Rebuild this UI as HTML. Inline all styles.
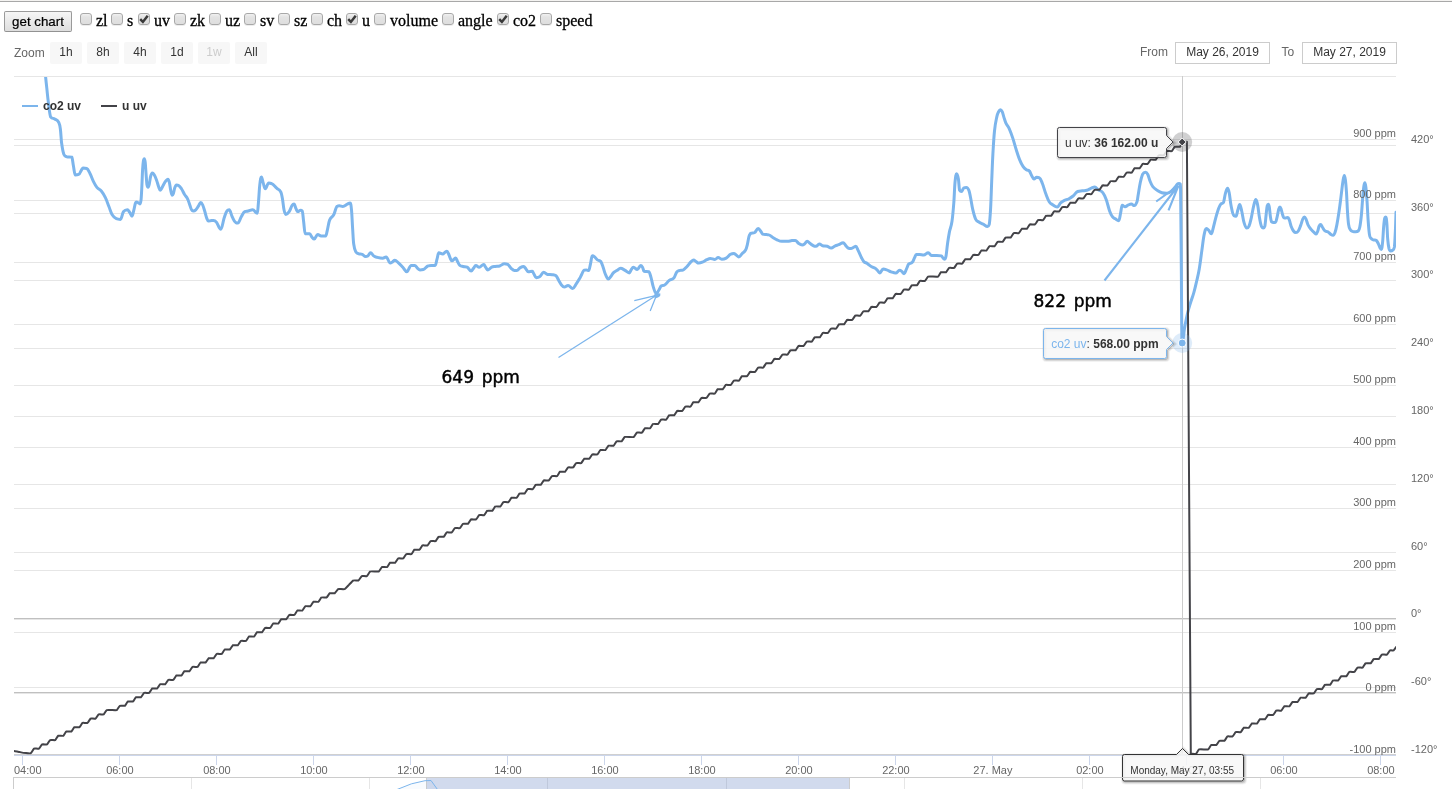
<!DOCTYPE html>
<html><head><meta charset="utf-8"><title>chart</title>
<style>
html,body{margin:0;padding:0;background:#fff;}
body{width:1452px;height:789px;overflow:hidden;position:relative;font-family:"Liberation Serif","Times New Roman",serif;font-size:16px;color:#000;}
#topline{position:absolute;left:0;top:0;width:1452px;height:2px;background:linear-gradient(#f4f3f1 0,#f4f3f1 50%,#a8a8a8 50%,#a8a8a8 100%);}
#ctl{position:absolute;left:0;top:0;white-space:nowrap;}
#btn{-webkit-appearance:none;appearance:none;margin:0;padding:0;position:absolute;left:4px;top:11px;box-sizing:border-box;width:68px;height:21px;border:1px solid #9a9a9a;border-bottom-color:#929292;border-radius:2px;background:linear-gradient(#f6f6f6,#dedede);font-family:"Liberation Sans",Arial,sans-serif;font-size:13.333px;line-height:19px;text-align:center;color:#000;-webkit-text-stroke:0.2px #000;}
.cb{-webkit-appearance:none;appearance:none;margin:0;padding:0;outline:none;position:absolute;top:13px;box-sizing:border-box;width:12px;height:12px;border:1px solid #a8a8a8;border-radius:3px;background:linear-gradient(#f1f1f1 0%,#e3e3e3 30%,#dedede 100%);box-shadow:0 1px 0 rgba(0,0,0,0.07);}
.ck{position:absolute;top:13px;pointer-events:none;}
.lb{position:absolute;top:12px;height:18px;line-height:18px;-webkit-text-stroke:0.3px #000;}
</style></head><body>
<svg width="1452" height="789" viewBox="0 0 1452 789" style="position:absolute;left:0;top:0;font-family:'Liberation Sans',Arial,Helvetica,sans-serif;font-size:12px">
<defs><clipPath id="pc"><rect x="14" y="77" width="1382" height="678"/></clipPath>
</defs>
<g shape-rendering="crispEdges"><rect x="14" y="76" width="1382" height="1" fill="#e6e6e6"/><rect x="14" y="139" width="1382" height="1" fill="#e6e6e6"/><rect x="14" y="200" width="1382" height="1" fill="#e6e6e6"/><rect x="14" y="262" width="1382" height="1" fill="#e6e6e6"/><rect x="14" y="324" width="1382" height="1" fill="#e6e6e6"/><rect x="14" y="385" width="1382" height="1" fill="#e6e6e6"/><rect x="14" y="447" width="1382" height="1" fill="#e6e6e6"/><rect x="14" y="508" width="1382" height="1" fill="#e6e6e6"/><rect x="14" y="570" width="1382" height="1" fill="#e6e6e6"/><rect x="14" y="632" width="1382" height="1" fill="#e6e6e6"/><rect x="14" y="693" width="1382" height="1" fill="#e6e6e6"/><rect x="14" y="145" width="1382" height="1" fill="#e6e6e6"/><rect x="14" y="213" width="1382" height="1" fill="#e6e6e6"/><rect x="14" y="280" width="1382" height="1" fill="#e6e6e6"/><rect x="14" y="348" width="1382" height="1" fill="#e6e6e6"/><rect x="14" y="416" width="1382" height="1" fill="#e6e6e6"/><rect x="14" y="484" width="1382" height="1" fill="#e6e6e6"/><rect x="14" y="552" width="1382" height="1" fill="#e6e6e6"/><rect x="14" y="619" width="1382" height="1" fill="#e6e6e6"/><rect x="14" y="687" width="1382" height="1" fill="#e6e6e6"/><rect x="14" y="618" width="1382" height="1" fill="#c0c0c0"/><rect x="14" y="692" width="1382" height="1" fill="#c0c0c0"/><rect x="14" y="754" width="1382" height="1" fill="#d0d0d0"/><rect x="14" y="755" width="1382" height="1" fill="#ccd6eb"/></g>
<g shape-rendering="crispEdges"><rect x="22" y="756" width="1" height="9" fill="#ccd6eb"/><rect x="119" y="756" width="1" height="9" fill="#ccd6eb"/><rect x="216" y="756" width="1" height="9" fill="#ccd6eb"/><rect x="313" y="756" width="1" height="9" fill="#ccd6eb"/><rect x="410" y="756" width="1" height="9" fill="#ccd6eb"/><rect x="507" y="756" width="1" height="9" fill="#ccd6eb"/><rect x="604" y="756" width="1" height="9" fill="#ccd6eb"/><rect x="701" y="756" width="1" height="9" fill="#ccd6eb"/><rect x="798" y="756" width="1" height="9" fill="#ccd6eb"/><rect x="895" y="756" width="1" height="9" fill="#ccd6eb"/><rect x="992" y="756" width="1" height="9" fill="#ccd6eb"/><rect x="1089" y="756" width="1" height="9" fill="#ccd6eb"/><rect x="1186" y="756" width="1" height="9" fill="#ccd6eb"/><rect x="1283" y="756" width="1" height="9" fill="#ccd6eb"/><rect x="1380" y="756" width="1" height="9" fill="#ccd6eb"/></g>
<g fill="#666" font-size="11px" text-anchor="middle">
<text x="14" y="774" text-anchor="start">04:00</text>
<text x="119.9" y="774">06:00</text>
<text x="216.9" y="774">08:00</text>
<text x="313.9" y="774">10:00</text>
<text x="410.9" y="774">12:00</text>
<text x="507.9" y="774">14:00</text>
<text x="604.9" y="774">16:00</text>
<text x="701.9" y="774">18:00</text>
<text x="798.9" y="774">20:00</text>
<text x="895.9" y="774">22:00</text>
<text x="992.9" y="774">27. May</text>
<text x="1089.9" y="774">02:00</text>
<text x="1186.9" y="774">04:00</text>
<text x="1283.9" y="774">06:00</text>
<text x="1380.9" y="774">08:00</text>
</g>
<rect x="1182" y="76" width="1" height="679" fill="#cccccc" shape-rendering="crispEdges"/>
<g clip-path="url(#pc)" fill="none" stroke-linejoin="round" stroke-linecap="round">
<path d="M43.5 55C43.5 55 44.16 61.43 44.6 66C45 70.15 45.2 72.76 45.6 76.8C46.08 81.64 46.32 83.74 46.8 88.2C47.4 93.78 47.7 97.38 48.3 101.9C49.22 108.82 49.68 114.6 50.6 116.8C52.24 119 53.06 117.86 54.7 119C56.34 120.14 57.16 119.54 58.8 122.5C59.44 123.66 59.76 124.61 60.4 129.3C60.88 132.81 61.12 139.56 61.6 143C62.52 149.6 62.98 152.1 63.9 154.4C64.98 156.7 65.52 156.3 66.6 156.7C68.68 157.1 69.72 156.7 71.8 157.1C72.44 157.5 72.76 162.55 73.4 165.8C74.16 169.67 74.54 174.9 75.3 174.9C76.66 174.9 77.34 174.9 78.7 174.4C80.5 173.9 81.4 168.1 83.2 168.1C84.6 168.1 85.3 168.1 86.7 168.5C88.06 168.9 88.74 171.16 90.1 173.8C91.46 176.44 92.14 178.98 93.5 181.7C94.86 184.42 95.54 185.77 96.9 187.4C98.74 189.61 99.66 189.07 101.5 191.3C103.06 193.19 103.84 194.48 105.4 197.7C106.84 200.68 107.56 203.18 109 206.8C110.28 210.02 110.92 212.71 112.2 214.8C113.84 217.47 114.66 218 116.3 218.7C117.94 219.4 118.76 219.4 120.4 219.4C121.6 219.4 122.2 213.8 123.4 211.8C125 209.8 125.8 209.8 127.4 209.8C128.32 209.8 128.78 211.12 129.7 212.4C130.62 213.68 131.08 216.2 132 216.2C132.68 216.2 133.02 213.28 133.7 210.7C134.38 208.12 134.72 205.44 135.4 203.3C135.84 201.92 136.06 201.9 136.5 201.9C137.18 201.9 137.52 202.31 138.2 202.7C138.92 203.11 139.28 203.9 140 203.9C140.44 203.9 140.66 203.54 141.1 199.3C141.42 196.22 141.58 191.94 141.9 185.6C142.18 180.06 142.32 174.17 142.6 169.6C142.92 164.37 143.08 163.13 143.4 161.1C143.76 158.81 143.94 158.8 144.3 158.8C144.66 158.8 144.84 159.17 145.2 162.2C145.52 164.89 145.68 168.9 146 173.1C146.36 177.82 146.54 181.7 146.9 184.5C147.38 187.3 147.62 187.3 148.1 187.3C148.54 187.3 148.76 186.4 149.2 184.5C149.76 182.08 150.04 178.56 150.6 176.5C151.28 174 151.62 173.1 152.3 173.1C153.06 173.1 153.44 173.57 154.2 174.8C155.12 176.29 155.58 177.4 156.5 179.9C157.42 182.4 157.88 184.67 158.8 187.3C159.32 188.79 159.58 190.2 160.1 190.2C160.7 190.2 161 189.49 161.6 188.5C162.52 186.97 162.98 185.5 163.9 183.9C164.82 182.3 165.28 181.56 166.2 180.5C166.88 179.72 167.22 179.3 167.9 179.3C168.46 179.3 168.74 180.02 169.3 182.2C169.86 184.38 170.14 187.67 170.7 190.2C171.3 192.91 171.6 195.3 172.2 195.3C172.68 195.3 172.92 195.02 173.4 193.6C173.92 192.06 174.18 189.39 174.7 187.9C175.38 185.95 175.72 185 176.4 185C177.32 185 177.78 185 178.7 185.6C179.86 186.2 180.44 187.25 181.6 189C182.72 190.69 183.28 192.34 184.4 194.2C185.76 196.46 186.44 196.58 187.8 199.3C188.6 200.9 189 202.79 189.8 205C190.52 206.99 190.88 208.7 191.6 209.8C192.24 210.9 192.56 210.9 193.2 210.9C194.24 210.9 194.76 210.76 195.8 209.8C196.84 208.84 197.36 207.65 198.4 206.1C199.32 204.73 199.78 202.5 200.7 202.5C201.5 202.5 201.9 203.23 202.7 205C203.58 206.95 204.02 208.92 204.9 211.8C205.62 214.16 205.98 216.21 206.7 218.1C207.38 219.89 207.72 221 208.4 221C209.28 221 209.72 220.8 210.6 220.7C211.76 220.56 212.34 220.4 213.5 220.4C214.66 220.4 215.24 220.7 216.4 222.1C218.16 224.22 219.04 229.2 220.8 229.2C222.16 229.2 222.84 221.86 224.2 217.8C225.28 214.58 225.82 212.2 226.9 211C227.82 209.8 228.28 209.8 229.2 209.8C230.4 209.8 231 214.34 232.2 216.7C233.56 219.38 234.24 221.8 235.6 222.4C236.52 223 236.98 223 237.9 223C239.26 223 239.94 218.98 241.3 216.7C242.66 214.42 243.34 212.2 244.7 211.6C246.1 211 246.8 211.31 248.2 211C250 210.59 250.9 209.8 252.7 209.8C254.54 209.8 255.46 213.2 257.3 213.2C257.74 213.2 257.96 208.02 258.4 203C258.96 196.62 259.24 189.55 259.8 184.7C260.44 179.15 260.76 177 261.4 177C262.12 177 262.48 180.72 263.2 182.9C264.04 185.44 264.46 188.8 265.3 188.8C266.66 188.8 267.34 182.9 268.7 182.9C269.86 182.9 270.44 182.9 271.6 183.6C273.64 184.3 274.66 186.34 276.7 188.2C278.34 189.7 279.16 189.07 280.8 192C281.44 193.15 281.76 194.84 282.4 198.4C283.04 201.96 283.36 206.79 284 209.8C284.72 213.19 285.08 214.4 285.8 214.4C287.16 214.4 287.84 213.53 289.2 211.6C290.4 209.89 291 207.18 292.2 205.3C292.92 204.18 293.28 204.1 294 204.1C294.8 204.1 295.2 207.03 296 208.7C296.64 210.03 296.96 211.6 297.6 211.6C298.8 211.6 299.4 210.3 300.6 210.3C301.24 210.3 301.56 210.3 302.2 211C302.76 211.7 303.04 216.94 303.6 221.2C304.24 226.06 304.56 233.8 305.2 233.8C307 233.8 307.9 233.8 309.7 233.8C310.62 233.8 311.08 236.16 312 237.2C312.92 238.24 313.38 239 314.3 239C315.66 239 316.34 234.4 317.7 234.4C319.06 234.4 319.74 236 321.1 236C322.94 236 323.86 236 325.7 236C326.34 236 326.66 232.91 327.3 230.3C328.22 226.55 328.68 222.33 329.6 220.1C331.24 216.13 332.06 217.8 333.7 214.8C335.06 212.32 335.74 207.1 337.1 206.4C338.02 205.7 338.48 205.7 339.4 205.7C340.76 205.7 341.44 206.4 342.8 206.4C344.64 206.4 345.56 204.96 347.4 204.1C348.48 203.6 349.02 203 350.1 203C350.66 203 350.94 204.18 351.5 209.8C351.94 214.22 352.16 221.26 352.6 228.1C353.04 234.94 353.26 240.91 353.7 244C354.62 250.47 355.08 250.2 356 252C357.12 253.8 357.68 253.3 358.8 253.8C360.16 254.3 360.84 253.8 362.2 254.3C363.56 254.8 364.24 256.6 365.6 256.6C366.52 256.6 366.98 256.6 367.9 255.9C368.98 255.2 369.52 252.7 370.6 252.7C371.8 252.7 372.4 255.04 373.6 255.9C374.96 256.88 375.64 256.96 377 257.3C379.28 257.88 380.42 258.2 382.7 258.2C384.06 258.2 384.74 257 386.1 257C387.78 257 388.62 263.1 390.3 263.1C391.18 263.1 391.62 262.45 392.5 261.9C393.42 261.33 393.88 260.3 394.8 260.3C396.16 260.3 396.84 261.43 398.2 262.6C400.04 264.19 400.96 265.28 402.8 267.2C404.44 268.92 405.26 271.7 406.9 271.7C407.54 271.7 407.86 270.5 408.5 269.5C409.42 268.06 409.88 265.8 410.8 265.6C412.36 265.4 413.14 265.4 414.7 265.4C415.86 265.4 416.44 267.3 417.6 268.3C418.52 269.1 418.98 269.9 419.9 269.9C421.26 269.9 421.94 269.9 423.3 269.5C425.14 269.1 426.06 266.6 427.9 266C429.26 265.4 429.94 265.4 431.3 265.4C432.86 265.4 433.64 265.4 435.2 265.4C435.92 265.4 436.28 261.72 437 259.2C437.72 256.68 438.08 252.8 438.8 252.8C440.36 252.8 441.14 254 442.7 254C444.34 254 445.16 251.2 446.8 251.2C447.44 251.2 447.76 252.2 448.4 253.5C449.12 254.96 449.48 256.55 450.2 258.1C450.84 259.47 451.16 260.8 451.8 260.8C453.36 260.8 454.14 258.1 455.7 258.1C456.42 258.1 456.78 260.22 457.5 261.5C458.42 263.14 458.88 264.3 459.8 265.4C461.16 266.5 461.84 266.16 463.2 266.5C464.76 266.88 465.54 266.5 467.1 267.2C468.74 267.9 469.56 271.1 471.2 271.1C472.12 271.1 472.58 269.44 473.5 268.3C474.42 267.16 474.88 265.4 475.8 265.4C477.16 265.4 477.84 267.2 479.2 267.2C481.04 267.2 481.96 264.4 483.8 264.4C484.52 264.4 484.88 266.23 485.6 267.2C486.52 268.43 486.98 269.9 487.9 269.9C489.42 269.9 490.18 267.91 491.7 267.2C493.1 266.55 493.8 266.71 495.2 266.5C497 266.23 497.9 266.5 499.7 266C501.54 265.5 502.46 263.8 504.3 263.8C505.66 263.8 506.34 263.8 507.7 264.4C509.06 265 509.74 267.1 511.1 268.3C512.46 269.5 513.14 270.4 514.5 270.4C515.42 270.4 515.88 270.4 516.8 270.4C518.2 270.4 518.9 268.39 520.3 267.6C521.66 266.83 522.34 266.5 523.7 266.5C524.62 266.5 525.08 267.94 526 269C526.88 270.02 527.32 271.7 528.2 271.7C529.84 271.7 530.66 271.3 532.3 271.3C532.94 271.3 533.26 272.95 533.9 274C534.82 275.51 535.28 277.7 536.2 277.7C537.56 277.7 538.24 277.7 539.6 276.8C541.24 275.9 542.06 272.2 543.7 272.2C545.26 272.2 546.04 274.3 547.6 274.5C549.44 274.7 550.36 274.5 552.2 274.7C553.76 274.9 554.54 274.7 556.1 275.8C557.26 276.9 557.84 278.91 559 280.9C559.92 282.47 560.38 283.64 561.3 284.7C562.5 286.08 563.1 287 564.3 287C565.82 287 566.58 285.4 568.1 285.4C569.94 285.4 570.86 288.4 572.7 288.4C574.18 288.4 574.92 285.7 576.4 283.6C577.68 281.78 578.32 280.83 579.6 278.6C580.52 276.99 580.98 275.74 581.9 274C582.78 272.34 583.22 270.3 584.1 270.1C585.02 269.9 585.48 269.9 586.4 269.9C587.32 269.9 587.78 270.6 588.7 270.6C589.42 270.6 589.78 266.76 590.5 263.8C591.22 260.84 591.58 255.8 592.3 255.8C593.22 255.8 593.68 256.16 594.6 256.9C595.72 257.8 596.28 259.07 597.4 259.9C598.76 260.91 599.44 259.9 600.8 261.5C601.72 263.1 602.18 264.64 603.1 267.2C603.98 269.64 604.42 272 605.3 274C606.5 276.72 607.1 279 608.3 279C609.22 279 609.68 277.92 610.6 276.8C611.68 275.48 612.22 273.98 613.3 272.9C614.7 271.5 615.4 271.48 616.8 270.6C618.32 269.64 619.08 268.3 620.6 268.3C622.24 268.3 623.06 269.23 624.7 270.1C626.54 271.07 627.46 272.9 629.3 272.9C630.02 272.9 630.38 270.9 631.1 269.9C632.02 268.62 632.48 267.2 633.4 267.2C634.96 267.2 635.74 269.5 637.3 269.5C638.66 269.5 639.34 265.6 640.7 265.6C641.42 265.6 641.78 265.99 642.5 267.2C643.14 268.27 643.46 270.9 644.1 271.3C645.94 271.7 646.86 271.3 648.7 271.7C649.62 272.1 650.08 274.35 651 277.4C651.88 280.31 652.32 283.89 653.2 286.6C654.4 290.29 655 293.4 656.2 293.4C657.28 293.4 657.82 291.62 658.9 290C659.82 288.62 660.28 286.8 661.2 285.9C662.56 285 663.24 285.9 664.6 285C666.44 284.1 667.36 281.78 669.2 280.4C671.04 279.02 671.96 280.11 673.8 278.1C674.96 276.83 675.54 273.87 676.7 272.2C677.62 270.87 678.08 271.1 679 270.6C680.56 270.1 681.34 270.6 682.9 270.1C684.46 269.6 685.24 268.3 686.8 266.7C688.44 265.02 689.26 263.54 690.9 261.9C691.98 260.82 692.52 259.9 693.6 259.9C694.52 259.9 694.98 260.93 695.9 261.5C697.06 262.21 697.64 263.1 698.8 263.1C700.2 263.1 700.9 262.8 702.3 262.2C704.1 261.44 705 260.53 706.8 259.7C708.2 259.05 708.9 258.5 710.3 258.5C712.1 258.5 713 259.4 714.8 259.4C716.16 259.4 716.84 257.6 718.2 257.6C719.6 257.6 720.3 259.2 721.7 259.2C723.5 259.2 724.4 259.09 726.2 258.1C728.04 257.09 728.96 254.9 730.8 254.2C731.96 253.5 732.54 253.5 733.7 253.5C734.82 253.5 735.38 254.55 736.5 255.3C737.42 255.91 737.88 256.9 738.8 256.9C740.16 256.9 740.84 254.86 742.2 253.5C743.56 252.14 744.24 252.48 745.6 250.1C746.32 248.84 746.68 247.3 747.4 244.4C748.04 241.82 748.36 238.6 749 236.4C749.64 234.2 749.96 234.3 750.6 233.4C752.24 232.5 753.06 233.4 754.7 232.5C756.06 231.6 756.74 228.4 758.1 228.4C759.02 228.4 759.48 229.56 760.4 230.7C761.32 231.84 761.78 233.6 762.7 234.1C764.26 234.6 765.04 234.39 766.6 234.6C767.44 234.71 767.86 234.6 768.7 234.9C770.22 235.2 770.98 236.3 772.5 237.2C774.34 238.3 775.26 239.08 777.1 239.9C778.94 240.72 779.86 241.3 781.7 241.3C783.98 241.3 785.12 241.3 787.4 241.3C789.2 241.3 790.1 240.81 791.9 240.6C793.26 240.45 793.94 240.4 795.3 240.4C796.7 240.4 797.4 242.69 798.8 243.6C800.16 244.49 800.84 244.9 802.2 244.9C803.12 244.9 803.58 244.66 804.5 244C805.58 243.22 806.12 241.3 807.2 241.3C808.4 241.3 809 242.76 810.2 243.6C811.56 244.56 812.24 245.16 813.6 245.8C814.52 246.24 814.98 246.3 815.9 246.3C817.26 246.3 817.94 244 819.3 244C820.66 244 821.34 245.3 822.7 245.8C824.54 246.3 825.46 245.8 827.3 246.3C828.86 246.72 829.64 248.1 831.2 248.1C832.84 248.1 833.66 246.54 835.3 245.8C836.66 245.18 837.34 245.23 838.7 244.7C840.5 243.99 841.4 242.7 843.2 242.7C844.12 242.7 844.58 244.16 845.5 245.2C846.42 246.24 846.88 247.2 847.8 247.9C849.16 248.6 849.84 248.6 851.2 248.6C853.04 248.6 853.96 246.3 855.8 246.3C856.72 246.3 857.18 248.56 858.1 250.4C859.46 253.12 860.14 255.03 861.5 257.7C862.42 259.51 862.88 260.68 863.8 261.6C865.16 262.96 865.84 262.5 867.2 263.4C869 264.58 869.9 265.72 871.7 266.8C873.1 267.64 873.8 267.34 875.2 268.2C876.08 268.74 876.52 269.36 877.4 270.3C878.32 271.28 878.78 273 879.7 273C881.06 273 881.74 269.1 883.1 269.1C884.5 269.1 885.2 269.33 886.6 269.8C888.4 270.41 889.3 271.17 891.1 271.8C892.94 272.45 893.86 273 895.7 273C897.26 273 898.04 270.3 899.6 270.3C900.48 270.3 900.92 270.74 901.8 271.4C902.72 272.1 903.18 273.7 904.1 273.7C905.02 273.7 905.48 271.02 906.4 269.1C907.32 267.18 907.78 265.16 908.7 264.1C910.14 262.44 910.86 263.86 912.3 262.3C913.22 261.3 913.68 259.54 914.6 257.7C915.24 256.42 915.56 254.5 916.2 254.5C917.56 254.5 918.24 254.5 919.6 254.5C921.24 254.5 922.06 255 923.7 255C925.54 255 926.46 252.7 928.3 252.7C929.58 252.7 930.22 255.4 931.5 255.4C933.58 255.4 934.62 255.4 936.7 255.4C938.54 255.4 939.46 255.4 941.3 255.9C942.5 256.4 943.1 259.3 944.3 259.3C944.94 259.3 945.26 259.3 945.9 256.6C946.54 253.9 946.86 248.52 947.5 244C948.22 238.92 948.58 236.25 949.3 232.6C950.38 227.13 950.92 228.3 952 221.2C952.72 216.46 953.08 212.29 953.8 203C954.28 196.81 954.52 187.51 955 182.5C955.64 175.83 955.96 173.8 956.6 173.8C957.32 173.8 957.68 175.04 958.4 179C958.88 181.64 959.12 189.1 959.6 190.3C960.32 191.5 960.68 191.5 961.4 191.5C962.32 191.5 962.78 188.8 963.7 188.1C964.78 187.4 965.32 187.4 966.4 187.4C967.4 187.4 967.9 187.91 968.9 190.3C969.54 191.83 969.86 194.02 970.5 197.2C971.42 201.78 971.88 205.73 972.8 209.7C973.88 214.37 974.42 216.51 975.5 218.8C976.7 221.35 977.3 220.96 978.5 221.8C980.34 223.08 981.26 223.17 983.1 224.1C984.9 225.01 985.8 226.4 987.6 226.4C988.24 226.4 988.56 226.4 989.2 224.5C989.76 222.6 990.04 218.3 990.6 208.6C991.04 200.98 991.26 191.66 991.7 181.2C992.18 169.78 992.42 162.51 992.9 153.9C993.54 142.43 993.86 137.07 994.5 131C995.42 122.27 995.88 121.23 996.8 116.9C997.52 113.51 997.88 113.12 998.6 111.7C999.32 110.28 999.68 109.8 1000.4 109.8C1001.12 109.8 1001.48 110.2 1002.2 111.7C1002.84 113.04 1003.16 114.93 1003.8 116.9C1004.64 119.49 1005.06 121.28 1005.9 123.1C1007.26 126.04 1007.94 125.84 1009.3 128.8C1010.66 131.76 1011.34 133.8 1012.7 137.9C1014.06 142 1014.74 145.02 1016.1 149.3C1017.5 153.7 1018.2 156.13 1019.6 159.6C1020.96 162.97 1021.64 164.36 1023 166.4C1024.36 168.44 1025.04 168.82 1026.4 169.8C1027.6 170.66 1028.2 169.8 1029.4 171C1030.28 172.2 1030.72 173.96 1031.6 175.5C1032.52 177.12 1032.98 178.9 1033.9 178.9C1035.02 178.9 1035.58 177.3 1036.7 177.3C1037.78 177.3 1038.32 177.3 1039.4 177.8C1040.6 178.3 1041.2 180.5 1042.4 183.5C1043.76 186.9 1044.44 190.16 1045.8 193.8C1047.16 197.44 1047.84 199.52 1049.2 201.7C1050.56 203.88 1051.24 203.8 1052.6 204.7C1054.44 205.92 1055.36 207 1057.2 207C1058.56 207 1059.24 204.18 1060.6 202.9C1061.96 201.62 1062.64 201.26 1064 200.6C1065.84 199.7 1066.76 199.93 1068.6 199C1070.4 198.09 1071.3 197.48 1073.1 196C1074.94 194.48 1075.86 192.2 1077.7 191.5C1079.54 190.8 1080.46 191.04 1082.3 190.8C1084.1 190.56 1085 190.8 1086.8 190.3C1088.64 189.8 1089.56 188.88 1091.4 188.1C1092.76 187.52 1093.44 186.9 1094.8 186.9C1096.16 186.9 1096.84 188.73 1098.2 189.7C1100.04 191.01 1100.96 190.35 1102.8 192.6C1104.16 194.27 1104.84 195.84 1106.2 199.5C1107.56 203.16 1108.24 207.15 1109.6 210.9C1110.72 213.99 1111.28 215.05 1112.4 216.6C1113.56 218.21 1114.14 218.06 1115.3 218.8C1116.7 219.7 1117.4 220.7 1118.8 220.7C1119.52 220.7 1119.88 216.38 1120.6 213.1C1121.24 210.18 1121.56 205.2 1122.2 205.2C1123.36 205.2 1123.94 206.8 1125.1 206.8C1126.22 206.8 1126.78 205.71 1127.9 205.2C1129.26 204.59 1129.94 204 1131.3 204C1132.5 204 1133.1 205.6 1134.3 205.6C1135.38 205.6 1135.92 204.47 1137 201.7C1137.4 200.67 1137.6 198.43 1138 196.1C1138.92 190.75 1139.38 186.92 1140.3 182.5C1141.18 178.28 1141.62 176.8 1142.5 174.5C1143.7 172.2 1144.3 172.2 1145.5 172.2C1146.42 172.2 1146.88 172.68 1147.8 174.5C1148.72 176.32 1149.18 179.07 1150.1 181.3C1151.18 183.91 1151.72 185.25 1152.8 186.6C1154.64 188.89 1155.56 189.17 1157.4 190.4C1159.2 191.61 1160.1 192.2 1161.9 192.7C1163.74 193.2 1164.66 193.2 1166.5 193.2C1168.3 193.2 1169.2 192.91 1171 191.6C1172.84 190.27 1173.76 188.74 1175.6 186.6C1176.44 185.62 1176.86 184.2 1177.7 183.8C1178.22 183.4 1178.48 183.4 1179 183.4C1179.48 183.4 1179.72 183.4 1180.2 184C1180.36 184.6 1180.44 184 1180.6 189.7C1180.88 195.4 1181.02 236.14 1181.3 266.8C1181.58 297.46 1181.72 343 1182 343C1183.08 343 1183.62 333.07 1184.7 327.3C1185.86 321.11 1186.44 317.95 1187.6 313.1C1188.84 307.91 1189.46 306.27 1190.7 302.2C1191.98 297.99 1192.62 296.95 1193.9 292.4C1195.06 288.27 1195.64 285.59 1196.8 280.5C1197.8 276.11 1198.3 274.62 1199.3 268.7C1200.3 262.78 1200.8 257.94 1201.8 250.9C1202.72 244.42 1203.18 239.38 1204.1 234.9C1205.02 230.42 1205.48 228.5 1206.4 228.5C1207.32 228.5 1207.78 229.32 1208.7 230.3C1209.78 231.44 1210.32 233.8 1211.4 233.8C1212.12 233.8 1212.48 230.72 1213.2 228.1C1214.12 224.76 1214.58 222.27 1215.5 218.9C1216.7 214.51 1217.3 212.05 1218.5 208.7C1219.42 206.13 1219.88 205.24 1220.8 204.1C1221.88 202.76 1222.42 204.1 1223.5 202.5C1224.22 200.9 1224.58 196.41 1225.3 193.9C1226.22 190.69 1226.68 188.2 1227.6 188.2C1228.24 188.2 1228.56 189.48 1229.2 192.7C1229.92 196.32 1230.28 201.73 1231 205.3C1232.12 210.85 1232.68 214.8 1233.8 215.5C1234.68 216.2 1235.12 216.2 1236 216.2C1236.76 216.2 1237.14 212.18 1237.9 209.8C1238.62 207.54 1238.98 204.6 1239.7 204.6C1240.5 204.6 1240.9 207.69 1241.7 211C1242.62 214.81 1243.08 219.32 1244 222.4C1245.12 226.16 1245.68 228.1 1246.8 228.1C1247.68 228.1 1248.12 228.1 1249 226.2C1249.92 224.3 1250.38 221.81 1251.3 217.8C1252.3 213.45 1252.8 209.26 1253.8 205.3C1254.64 201.98 1255.06 199.6 1255.9 199.6C1256.62 199.6 1256.98 201.66 1257.7 205.3C1258.42 208.94 1258.78 214.01 1259.5 217.8C1260.42 222.65 1260.88 225.7 1261.8 226.9C1262.36 228.1 1262.64 228.1 1263.2 228.1C1263.84 228.1 1264.16 228.1 1264.8 226.2C1265.32 224.3 1265.58 219.42 1266.1 215C1266.54 211.26 1266.76 207.4 1267.2 205.8C1267.64 204.2 1267.86 204.2 1268.3 204.2C1268.7 204.2 1268.9 204.64 1269.3 207C1269.74 209.6 1269.96 213.66 1270.4 216.6C1270.84 219.54 1271.06 220.9 1271.5 221.7C1272.34 222.5 1272.76 222.5 1273.6 222.5C1274.4 222.5 1274.8 222.5 1275.6 222.1C1276.24 221.7 1276.56 219.22 1277.2 216.6C1277.84 213.98 1278.16 211.19 1278.8 209C1279.28 207.35 1279.52 207 1280 207C1280.48 207 1280.72 207.98 1281.2 209.4C1281.8 211.18 1282.1 213.16 1282.7 215C1283.18 216.48 1283.42 217.5 1283.9 217.7C1284.7 217.9 1285.1 217.9 1285.9 217.9C1286.7 217.9 1287.1 217.4 1287.9 217.4C1288.54 217.4 1288.86 218.84 1289.5 220.6C1290.14 222.36 1290.46 224.54 1291.1 226.2C1292.06 228.7 1292.54 229.72 1293.5 231C1294.46 232.28 1294.94 232.6 1295.9 232.6C1296.86 232.6 1297.34 232.44 1298.3 231C1299.26 229.56 1299.74 227.96 1300.7 225.4C1301.54 223.16 1301.96 220.93 1302.8 219C1303.44 217.53 1303.76 216.9 1304.4 216.9C1305.04 216.9 1305.36 217.59 1306 219C1306.76 220.67 1307.14 223.05 1307.9 224.6C1309.18 227.21 1309.82 227.8 1311.1 229.4C1312.38 231 1313.02 231.47 1314.3 232.6C1315.06 233.27 1315.44 233.9 1316.2 233.9C1316.84 233.9 1317.16 232.7 1317.8 231C1318.32 229.62 1318.58 227.35 1319.1 226.2C1319.74 224.79 1320.06 224.6 1320.7 224.6C1321.34 224.6 1321.66 226.02 1322.3 227C1323.26 228.46 1323.74 229.86 1324.7 230.7C1325.94 231.78 1326.56 231.05 1327.8 231.8C1329.08 232.57 1329.72 233.65 1331 234.5C1331.84 235.05 1332.26 235.3 1333.1 235.3C1333.86 235.3 1334.24 234.74 1335 232.6C1335.76 230.46 1336.14 228.55 1336.9 224.6C1337.74 220.23 1338.16 217.54 1339 211.8C1339.84 206.06 1340.26 202.43 1341.1 195.9C1341.82 190.31 1342.18 186.11 1342.9 181.5C1343.46 177.91 1343.74 175.4 1344.3 175.4C1344.74 175.4 1344.96 176.44 1345.4 179.9C1345.84 183.36 1346.06 186.02 1346.5 192.7C1346.9 198.78 1347.1 205.72 1347.5 211.8C1347.94 218.48 1348.16 221.73 1348.6 224.6C1349.24 228.77 1349.56 228.33 1350.2 229.4C1351.16 231.01 1351.64 230.8 1352.6 231.3C1353.88 231.8 1354.52 231.8 1355.8 231.8C1356.76 231.8 1357.24 231.8 1358.2 231C1358.84 230.2 1359.16 230.2 1359.8 227C1360.44 223.8 1360.76 221.38 1361.4 215C1361.88 210.22 1362.12 204.78 1362.6 199.1C1363.08 193.42 1363.32 190 1363.8 186.6C1364.24 183.48 1364.46 182.8 1364.9 182.8C1365.3 182.8 1365.5 183.99 1365.9 187.4C1366.34 191.15 1366.56 194.22 1367 200.7C1367.44 207.18 1367.66 213.66 1368.1 219.8C1368.62 227.06 1368.88 230.78 1369.4 234.2C1370 238.14 1370.3 237.34 1370.9 238.2C1371.86 239.58 1372.34 239.39 1373.3 239.8C1374.58 240.35 1375.22 239.8 1376.5 240.6C1377.26 241.4 1377.64 242.24 1378.4 243.8C1379.04 245.12 1379.36 246.56 1380 247.8C1380.52 248.8 1380.78 249.4 1381.3 249.4C1381.82 249.4 1382.08 247.23 1382.6 242.2C1383.04 237.95 1383.26 231.06 1383.7 226.2C1384.14 221.34 1384.36 218.9 1384.8 217.9C1385.2 216.9 1385.4 216.9 1385.8 216.9C1386.2 216.9 1386.4 218.35 1386.8 223C1387.16 227.19 1387.34 234.81 1387.7 239C1388.22 245.05 1388.48 246.3 1389 248.6C1389.64 250.9 1389.96 250.9 1390.6 250.9C1391.48 250.9 1391.92 250.9 1392.8 250.1C1393.44 249.3 1393.76 250.1 1394.4 247C1394.8 243.9 1395 238.9 1395.4 230.2C1395.64 224.98 1396 212.2 1396 212.2" stroke="#7cb5ec" stroke-width="3"/>
<path d="M14 751C14.8 751.1 19.2 752 20 752.1C20.8 752.3 25.2 753 26 753C26.6 753.1 30.5 753.4 30.9 753.1C31.4 752.9 33.5 748.9 34 748.6C34.4 748.4 38.6 748.9 39 748.6C39.5 748.4 41.6 744.6 42 744.4C42.5 744.1 46.7 744.6 47.1 744.4C47.6 744.1 49.6 740.3 50.1 740.1C50.6 739.8 54.7 740.3 55.2 740.1C55.7 739.8 57.7 736 58.2 735.8C58.7 735.6 62.8 736 63.3 735.8C63.8 735.5 65.8 731.7 66.3 731.5C66.7 731.3 70.9 731.7 71.4 731.5C71.8 731.3 73.9 727.5 74.4 727.2C74.8 727 79 727.5 79.5 727.2C79.9 727 82 723.2 82.5 722.9C82.9 722.7 87.1 723.2 87.5 722.9C88 722.7 90.1 718.9 90.5 718.6C91 718.4 95.1 718.9 95.6 718.6C96.1 718.4 98.1 714.6 98.6 714.4C99.1 714.1 103.2 714.6 103.7 714.4C104.2 714.1 106.2 710.3 106.7 710.1C107.6 709.6 115.9 710.5 116.8 710.1C117.3 709.8 119.4 706 119.8 705.8C120.3 705.5 124.5 706 124.9 705.8C125.4 705.5 127.4 701.7 127.9 701.5C128.4 701.3 132.5 701.7 133 701.5C133.5 701.2 135.5 697.4 136 697.2C136.5 697 140.6 697.4 141.1 697.2C141.5 697 143.6 693.1 144.1 692.9C144.5 692.6 148.7 693.1 149.1 692.9C149.6 692.6 151.7 688.8 152.1 688.5C152.6 688.3 156.8 688.8 157.2 688.5C157.7 688.3 159.7 684.4 160.2 684.2C160.7 684 164.8 684.4 165.3 684.2C165.8 684 167.8 680.1 168.3 679.9C168.7 679.6 172.9 680.1 173.3 679.9C173.8 679.6 175.9 675.8 176.3 675.5C176.8 675.3 181 675.8 181.4 675.5C181.9 675.3 183.9 671.5 184.4 671.2C184.9 671 189 671.5 189.5 671.2C190 671 192 667.1 192.5 666.9C192.9 666.6 197.1 667.1 197.6 666.9C198 666.6 200.1 662.8 200.6 662.5C201 662.3 205.2 662.8 205.6 662.5C206.1 662.3 208.2 658.5 208.6 658.2C209.1 658 213.2 658.4 213.7 658.2C214.2 658 216.2 654.1 216.7 653.9C217.2 653.6 221.3 654.1 221.8 653.9C222.2 653.6 224.3 649.8 224.8 649.5C225.2 649.3 229.4 649.8 229.8 649.5C230.3 649.3 232.4 645.5 232.8 645.2C233.3 645 237.5 645.4 237.9 645.2C238.4 645 240.4 641.1 240.9 640.9C241.4 640.6 245.5 641.1 246 640.9C246.5 640.6 248.5 636.8 249 636.5C249.4 636.3 253.6 636.8 254.1 636.5C254.5 636.3 256.6 632.5 257.1 632.2C257.5 632 261.7 632.4 262.1 632.2C262.6 632 264.6 628.1 265.1 627.9C265.6 627.6 269.7 628.1 270.2 627.9C270.7 627.6 272.7 623.8 273.2 623.5C273.6 623.3 277.8 623.8 278.3 623.5C278.7 623.3 280.8 619.5 281.3 619.2C281.7 619 285.9 619.5 286.3 619.2C286.8 619 288.9 615.1 289.3 614.9C289.8 614.6 293.9 615.1 294.4 614.9C294.9 614.6 296.9 610.8 297.4 610.5C297.9 610.3 301.9 610.8 302.4 610.5C302.9 610.3 304.9 606.4 305.4 606.2C305.9 605.9 309.9 606.4 310.4 606.2C310.9 605.9 312.9 602.1 313.4 601.8C313.9 601.6 317.9 602.1 318.4 601.8C318.9 601.6 320.9 597.7 321.4 597.5C321.9 597.2 326.1 597.7 326.6 597.5C327.1 597.2 329.3 593.5 329.8 593.2C330.3 593 334.3 593.5 334.8 593.2C335.3 593 337.6 589.4 338.1 589.1C338.7 588.9 343.9 589.4 344.6 589.1C345.2 588.9 348.4 585.3 349 584.8C349.6 584.2 352.8 580.7 353.4 580.5C353.9 580.2 358 580.7 358.5 580.5C359 580.2 361.3 576.4 361.8 576.1C362.3 575.9 366.4 576.4 366.9 576.1C367.4 575.9 369.7 571.7 370.2 571.5C371 571 378 571.9 378.8 571.5C379.3 571.2 381.5 567.3 382 567C382.5 566.8 386.6 567.3 387.1 567C387.6 566.8 389.6 563 390.1 562.7C390.6 562.5 394.7 563 395.2 562.7C395.7 562.5 397.7 558.6 398.2 558.4C398.7 558.1 402.8 558.6 403.3 558.4C403.8 558.1 405.8 554.3 406.3 554.1C406.7 553.8 410.9 554.3 411.4 554.1C411.9 553.8 413.9 550 414.4 549.7C414.8 549.5 419 550 419.5 549.7C419.9 549.5 422 545.7 422.5 545.4C422.9 545.2 427.1 545.7 427.6 545.4C428 545.2 430.1 541.3 430.6 541.1C431 540.8 435.2 541.3 435.7 541.1C436.1 540.8 438.2 537 438.7 536.8C439.1 536.5 443.3 537 443.8 536.8C444.2 536.5 446.3 532.7 446.8 532.4C447.2 532.2 451.4 532.7 451.8 532.4C452.3 532.2 454.4 528.3 454.8 528.1C455.3 527.9 459.5 528.3 459.9 528.1C460.4 527.9 462.5 524 462.9 523.8C463.4 523.5 467.6 524 468 523.8C468.5 523.5 470.6 519.7 471 519.4C471.5 519.2 475.7 519.7 476.1 519.4C476.6 519.2 478.6 515.4 479.1 515.1C479.6 514.9 483.8 515.4 484.2 515.1C484.7 514.9 486.7 511 487.2 510.8C487.7 510.5 491.8 511 492.3 510.8C492.8 510.5 494.8 506.7 495.3 506.5C495.8 506.2 499.9 506.7 500.4 506.5C500.9 506.2 502.9 502.4 503.4 502.1C503.9 501.9 508 502.4 508.5 502.1C509 501.9 511 498 511.5 497.8C512 497.6 516.1 498 516.6 497.8C517.1 497.6 519.1 493.7 519.6 493.5C520 493.2 524.2 493.7 524.7 493.5C525.1 493.2 527.2 489.4 527.7 489.1C528.1 488.9 532.3 489.4 532.8 489.1C533.2 488.9 535.3 485 535.8 484.8C536.2 484.5 540.4 485 540.8 484.8C541.3 484.5 543.4 480.7 543.8 480.4C544.3 480.2 548.5 480.7 548.9 480.4C549.4 480.2 551.4 476.3 551.9 476.1C552.4 475.8 556.5 476.3 557 476.1C557.5 475.8 559.5 472 560 471.7C560.5 471.5 564.6 472 565.1 471.7C565.6 471.5 567.6 467.6 568.1 467.4C568.5 467.2 572.7 467.6 573.2 467.4C573.6 467.1 575.7 463.3 576.2 463.1C576.6 462.8 580.8 463.3 581.2 463.1C581.7 462.8 583.8 459 584.2 458.7C584.7 458.5 588.9 459 589.3 458.7C589.8 458.5 591.9 454.6 592.3 454.4C592.8 454.1 597 454.6 597.4 454.4C597.9 454.1 599.9 450.3 600.4 450C600.9 449.8 605 450.3 605.5 450C606 449.8 608 445.9 608.5 445.7C609 445.4 613.1 445.9 613.6 445.7C614.1 445.4 616.1 441.6 616.6 441.3C617 441.1 621.2 441.6 621.7 441.3C622.1 441.1 624.2 437.2 624.7 437C625.5 436.6 633 437.4 633.8 437C634.3 436.7 636.4 432.9 636.8 432.6C637.3 432.4 641.5 432.9 641.9 432.6C642.4 432.4 644.4 428.6 644.9 428.3C645.4 428.1 649.5 428.5 650 428.3C650.5 428.1 652.5 424.2 653 424C653.5 423.7 657.6 424.2 658.1 424C658.6 423.7 660.6 419.9 661.1 419.6C661.5 419.4 665.7 419.9 666.2 419.6C666.6 419.4 668.7 415.5 669.2 415.3C669.6 415 673.8 415.5 674.2 415.3C674.7 415 676.8 411.2 677.2 410.9C677.7 410.7 681.9 411.2 682.3 410.9C682.8 410.7 684.9 406.8 685.3 406.6C685.8 406.3 690 406.8 690.4 406.6C690.9 406.3 692.9 402.5 693.4 402.2C693.9 402 698 402.5 698.5 402.2C699 402 701 398.1 701.5 397.9C702 397.7 706.1 398.1 706.6 397.9C707.1 397.7 709.1 393.8 709.6 393.6C710.1 393.3 714.2 393.8 714.7 393.6C715.2 393.3 717.2 389.5 717.7 389.2C718.1 389 722.3 389.5 722.8 389.2C723.3 389 725.3 385.2 725.8 384.9C726.2 384.7 730.4 385.2 730.9 384.9C731.3 384.7 733.4 380.8 733.9 380.6C734.3 380.3 738.5 380.8 739 380.6C739.4 380.3 741.5 376.5 742 376.2C742.4 376 746.6 376.5 747 376.2C747.5 376 749.6 372.2 750 371.9C750.5 371.7 754.7 372.2 755.1 371.9C755.6 371.7 757.7 367.8 758.1 367.6C758.6 367.3 762.8 367.8 763.2 367.6C763.7 367.3 765.8 363.5 766.2 363.2C766.7 363 770.9 363.5 771.3 363.2C771.8 363 773.9 359.2 774.3 358.9C774.8 358.7 779 359.2 779.4 358.9C779.9 358.7 781.9 354.8 782.4 354.6C782.9 354.3 787 354.8 787.5 354.6C788 354.3 790 350.5 790.5 350.3C791 350 795.1 350.5 795.6 350.3C796.1 350 798.1 346.2 798.6 345.9C799.1 345.7 803.2 346.2 803.7 345.9C804.2 345.7 806.2 341.8 806.7 341.6C807.2 341.3 811.3 341.8 811.8 341.6C812.3 341.3 814.3 337.5 814.8 337.3C815.2 337 819.4 337.5 819.9 337.3C820.4 337 822.4 333.2 822.9 332.9C823.3 332.7 827.5 333.2 828 332.9C828.4 332.7 830.5 328.8 831 328.6C831.4 328.4 835.6 328.8 836.1 328.6C836.5 328.4 838.6 324.5 839.1 324.3C839.5 324 843.7 324.5 844.1 324.3C844.6 324 846.7 320.2 847.1 319.9C847.6 319.7 851.8 320.2 852.2 319.9C852.7 319.7 854.8 315.9 855.2 315.6C855.7 315.4 859.9 315.9 860.3 315.6C860.8 315.4 862.9 311.5 863.3 311.3C863.8 311 868 311.5 868.4 311.3C868.9 311 871 307.2 871.4 306.9C871.9 306.7 876.1 307.2 876.5 306.9C877 306.7 879 302.9 879.5 302.6C880 302.4 884.1 302.9 884.6 302.6C885.1 302.4 887.1 298.5 887.6 298.3C888.1 298 892.2 298.5 892.7 298.3C893.2 298 895.2 294.2 895.7 293.9C896.2 293.7 900.3 294.2 900.8 293.9C901.3 293.7 903.3 289.9 903.8 289.6C904.2 289.4 908.4 289.9 908.9 289.6C909.3 289.4 911.4 285.5 911.9 285.3C912.3 285 916.5 285.5 917 285.3C917.4 285 919.5 281.2 920 280.9C920.4 280.7 924.6 281.2 925 280.9C925.5 280.7 927.6 276.8 928 276.6C928.9 276.1 937.1 277.1 938 276.6C938.5 276.3 940.5 272.5 941 272.2C941.5 272 945.6 272.5 946.1 272.2C946.6 272 948.6 268.1 949.1 267.9C949.5 267.6 953.7 268.1 954.2 267.9C954.6 267.6 956.7 263.8 957.2 263.6C957.6 263.3 961.8 263.8 962.2 263.6C962.7 263.3 964.8 259.5 965.2 259.2C965.7 259 969.9 259.4 970.3 259.2C970.8 259 972.9 255.1 973.3 254.9C973.8 254.6 978 255.1 978.4 254.9C978.9 254.6 980.9 250.8 981.4 250.5C981.9 250.3 986 250.8 986.5 250.5C987 250.3 989 246.4 989.5 246.2C990 245.9 994.1 246.4 994.6 246.2C995.1 245.9 997.1 242.1 997.6 241.8C998 241.6 1002.2 242.1 1002.7 241.8C1003.1 241.6 1005.2 237.7 1005.7 237.5C1006.1 237.2 1010.3 237.7 1010.8 237.5C1011.2 237.2 1013.3 233.4 1013.8 233.1C1014.2 232.9 1018.4 233.4 1018.8 233.1C1019.3 232.9 1021.4 229 1021.8 228.8C1022.3 228.6 1026.5 229 1026.9 228.8C1027.4 228.5 1029.4 224.7 1029.9 224.4C1030.4 224.2 1034.5 224.7 1035 224.4C1035.5 224.2 1037.5 220.4 1038 220.1C1038.5 219.9 1042.6 220.4 1043.1 220.1C1043.6 219.9 1045.6 216 1046.1 215.8C1046.5 215.5 1050.7 216 1051.2 215.8C1051.6 215.5 1053.7 211.7 1054.2 211.4C1054.6 211.2 1058.8 211.7 1059.2 211.4C1059.7 211.2 1061.8 207.3 1062.2 207.1C1062.7 206.8 1066.9 207.3 1067.3 207.1C1067.8 206.8 1069.9 203 1070.3 202.7C1070.8 202.5 1075 203 1075.4 202.7C1075.9 202.5 1077.9 198.6 1078.4 198.4C1078.9 198.1 1083 198.6 1083.5 198.4C1084 198.1 1086 194.3 1086.5 194.1C1087 193.8 1091.1 194.3 1091.5 194.1C1092 193.8 1094.1 190 1094.5 189.8C1095 189.5 1099.1 190 1099.5 189.8C1100 189.5 1102.1 185.7 1102.5 185.4C1103 185.2 1107.1 185.7 1107.6 185.4C1108.1 185.2 1110.1 181.4 1110.6 181.2C1111 180.9 1115.2 181.4 1115.6 181.2C1116.1 180.9 1118.1 177.1 1118.6 176.8C1119.1 176.6 1123.2 177.1 1123.6 176.8C1124.1 176.6 1126.2 172.8 1126.6 172.6C1127.1 172.3 1131.2 172.8 1131.7 172.6C1132.1 172.3 1134.2 168.5 1134.7 168.2C1135.1 168 1139.2 168.5 1139.7 168.2C1140.2 168 1142.2 164.2 1142.7 163.9C1143.1 163.7 1147.3 164.2 1147.7 163.9C1148.2 163.7 1150.2 159.9 1150.7 159.7C1151.2 159.4 1155.3 159.9 1155.8 159.7C1156.2 159.4 1158.3 155.6 1158.8 155.3C1159.2 155.1 1163.3 155.6 1163.8 155.3C1164.2 155.1 1166.3 151.3 1166.8 151.1C1167.2 150.8 1171.3 151.3 1171.8 151.1C1172.3 150.8 1174.3 147 1174.8 146.8C1175.3 146.5 1179.4 147 1179.9 146.8C1180.4 146.5 1182.4 142.6 1182.9 142.2C1183.3 142 1186.4 141.8 1186.9 141.8L1190.8 753.8C1191.5 753.8 1195.5 754 1196 753.8C1196.5 753.5 1198.5 749.6 1199 749.4C1199.8 748.9 1207.4 749.8 1208.2 749.4C1208.7 749.1 1210.7 745.3 1211.2 745C1211.7 744.8 1215.9 745.3 1216.3 745C1216.8 744.8 1218.9 741 1219.3 740.8C1219.8 740.5 1224 741 1224.5 740.8C1224.9 740.5 1227 736.7 1227.5 736.4C1227.9 736.2 1232.1 736.7 1232.6 736.4C1233.1 736.2 1235.1 732.4 1235.6 732.1C1236 731.9 1240.2 732.4 1240.7 732.1C1241.2 731.9 1243.2 728.1 1243.7 727.8C1244.2 727.6 1248.4 728.1 1248.8 727.8C1249.3 727.6 1251.4 723.8 1251.8 723.5C1252.3 723.3 1256.5 723.8 1257 723.5C1257.4 723.3 1259.5 719.5 1260 719.2C1260.4 719 1264.6 719.5 1265.1 719.2C1265.6 719 1267.6 715.2 1268.1 714.9C1268.6 714.7 1272.8 715.2 1273.2 714.9C1273.7 714.7 1275.7 710.9 1276.2 710.6C1276.7 710.4 1280.9 710.9 1281.3 710.6C1281.8 710.4 1283.9 706.6 1284.3 706.3C1284.8 706.1 1289 706.6 1289.5 706.3C1289.9 706.1 1292 702.2 1292.5 702C1292.9 701.8 1297.1 702.2 1297.6 702C1298.1 701.8 1300.1 697.9 1300.6 697.7C1301.1 697.5 1305.3 697.9 1305.7 697.7C1306.2 697.5 1308.3 693.6 1308.7 693.4C1309.2 693.2 1313.4 693.6 1313.8 693.4C1314.3 693.2 1316.4 689.3 1316.8 689.1C1317.3 688.8 1321.5 689.3 1322 689.1C1322.5 688.8 1324.5 685 1325 684.8C1325.4 684.5 1329.6 685 1330.1 684.8C1330.6 684.5 1332.6 680.7 1333.1 680.5C1333.6 680.2 1337.8 680.7 1338.2 680.5C1338.7 680.2 1340.8 676.4 1341.2 676.2C1341.7 675.9 1345.9 676.4 1346.4 676.2C1346.8 675.9 1348.9 672.1 1349.4 671.9C1349.8 671.6 1354 672.1 1354.5 671.9C1355 671.6 1357 667.8 1357.5 667.6C1358 667.3 1362.2 667.8 1362.6 667.6C1363.1 667.3 1365.1 663.5 1365.6 663.3C1366.1 663 1370.3 663.5 1370.8 663.3C1371.2 663 1373.3 659.2 1373.8 659C1374.2 658.7 1378.4 659.2 1378.9 659C1379.3 658.7 1381.4 654.9 1381.9 654.6C1382.3 654.4 1386.5 654.9 1387 654.6C1387.5 654.4 1389.5 650.6 1390 650.4C1390.3 650.2 1393.3 650.5 1393.6 650.4C1394.1 650.1 1396.2 647 1396.6 646.5" stroke="#434348" stroke-width="2"/>
</g>
<g fill="#666" font-size="11px" text-anchor="end">
<text x="1396" y="137.2">900 ppm</text>
<text x="1396" y="198.2">800 ppm</text>
<text x="1396" y="260.2">700 ppm</text>
<text x="1396" y="322.2">600 ppm</text>
<text x="1396" y="383.2">500 ppm</text>
<text x="1396" y="445.2">400 ppm</text>
<text x="1396" y="506.2">300 ppm</text>
<text x="1396" y="568.2">200 ppm</text>
<text x="1396" y="630.2">100 ppm</text>
<text x="1396" y="691.2">0 ppm</text>
<text x="1396" y="753.2">-100 ppm</text>
</g><g fill="#666" font-size="11px">
<text x="1411" y="143">420°</text>
<text x="1411" y="211">360°</text>
<text x="1411" y="278">300°</text>
<text x="1411" y="346">240°</text>
<text x="1411" y="414">180°</text>
<text x="1411" y="482">120°</text>
<text x="1411" y="550">60°</text>
<text x="1411" y="617">0°</text>
<text x="1411" y="685">-60°</text>
<text x="1411" y="753">-120°</text>
</g>
<g stroke="#7cb5ec" stroke-width="1.7" fill="none" stroke-linecap="butt">
<path d="M558.5 357.5L656.5 295.3M656.5 295.3L634.3 300.6M656.5 295.3L650.2 311" stroke-width="1.25"/>
<path d="M653.6 295.2L656 293L660.4 293.6L660.2 296L658 297.6L655 298.4Z" fill="#7cb5ec" stroke="none"/>
<path d="M1104.5 280.5L1178.5 185.5M1178.5 185.5L1156.2 201.5M1178.5 185.5L1168.5 210.3" stroke-width="2.1"/>
</g>
<g font-family="'DejaVu Sans',Verdana,sans-serif" font-size="17px" fill="#000" stroke="#000" stroke-width="0.45" word-spacing="2.4">
<text x="441.5" y="382.5">649 ppm</text>
<text x="1033.5" y="306.5">822 ppm</text>
</g>
<path d="M22 106H38" stroke="#7cb5ec" stroke-width="2"/>
<text x="43" y="110" font-weight="bold" fill="#333">co2 uv</text>
<path d="M101 106H117" stroke="#434348" stroke-width="2"/>
<text x="122" y="110" font-weight="bold" fill="#333">u uv</text>
<circle cx="1182.2" cy="142" r="10" fill="#434348" fill-opacity="0.25"/>
<path d="M1182.2 138L1186.2 142L1182.2 146L1178.2 142Z" fill="#434348" stroke="#fff" stroke-width="1"/>
<circle cx="1182.2" cy="343" r="10" fill="#7cb5ec" fill-opacity="0.25"/>
<circle cx="1182.2" cy="343" r="4" fill="#7cb5ec" stroke="#fff" stroke-width="1"/>
<path d="M1059.5 127.5H1164.5Q1166.5 127.5 1166.5 129.5V135.5L1173 142L1166.5 148.5V155.5Q1166.5 157.5 1164.5 157.5H1059.5Q1057.5 157.5 1057.5 155.5V129.5Q1057.5 127.5 1059.5 127.5Z" fill="none" stroke="#000" stroke-opacity="0.05" stroke-width="5" transform="translate(1,1)"/>
<path d="M1059.5 127.5H1164.5Q1166.5 127.5 1166.5 129.5V135.5L1173 142L1166.5 148.5V155.5Q1166.5 157.5 1164.5 157.5H1059.5Q1057.5 157.5 1057.5 155.5V129.5Q1057.5 127.5 1059.5 127.5Z" fill="none" stroke="#000" stroke-opacity="0.1" stroke-width="3" transform="translate(1,1)"/>
<path d="M1059.5 127.5H1164.5Q1166.5 127.5 1166.5 129.5V135.5L1173 142L1166.5 148.5V155.5Q1166.5 157.5 1164.5 157.5H1059.5Q1057.5 157.5 1057.5 155.5V129.5Q1057.5 127.5 1059.5 127.5Z" fill="none" stroke="#000" stroke-opacity="0.15" stroke-width="1" transform="translate(1,1)"/>
<path d="M1059.5 127.5H1164.5Q1166.5 127.5 1166.5 129.5V135.5L1173 142L1166.5 148.5V155.5Q1166.5 157.5 1164.5 157.5H1059.5Q1057.5 157.5 1057.5 155.5V129.5Q1057.5 127.5 1059.5 127.5Z" fill="#f7f7f7" fill-opacity="0.85" stroke="#434348" stroke-width="1"/>
<text x="1064.9" y="147" fill="#333">u uv: <tspan font-weight="bold">36 162.00 u</tspan></text>
<path d="M1045.5 328.5H1164.5Q1166.5 328.5 1166.5 330.5V336.5L1173 343L1166.5 349.5V356.5Q1166.5 358.5 1164.5 358.5H1045.5Q1043.5 358.5 1043.5 356.5V330.5Q1043.5 328.5 1045.5 328.5Z" fill="none" stroke="#000" stroke-opacity="0.05" stroke-width="5" transform="translate(1,1)"/>
<path d="M1045.5 328.5H1164.5Q1166.5 328.5 1166.5 330.5V336.5L1173 343L1166.5 349.5V356.5Q1166.5 358.5 1164.5 358.5H1045.5Q1043.5 358.5 1043.5 356.5V330.5Q1043.5 328.5 1045.5 328.5Z" fill="none" stroke="#000" stroke-opacity="0.1" stroke-width="3" transform="translate(1,1)"/>
<path d="M1045.5 328.5H1164.5Q1166.5 328.5 1166.5 330.5V336.5L1173 343L1166.5 349.5V356.5Q1166.5 358.5 1164.5 358.5H1045.5Q1043.5 358.5 1043.5 356.5V330.5Q1043.5 328.5 1045.5 328.5Z" fill="none" stroke="#000" stroke-opacity="0.15" stroke-width="1" transform="translate(1,1)"/>
<path d="M1045.5 328.5H1164.5Q1166.5 328.5 1166.5 330.5V336.5L1173 343L1166.5 349.5V356.5Q1166.5 358.5 1164.5 358.5H1045.5Q1043.5 358.5 1043.5 356.5V330.5Q1043.5 328.5 1045.5 328.5Z" fill="#f7f7f7" fill-opacity="0.85" stroke="#7cb5ec" stroke-width="1"/>
<text x="1051.2" y="348" fill="#333"><tspan fill="#7cb5ec">co2 uv</tspan>: <tspan font-weight="bold">568.00 ppm</tspan></text>
<path d="M1124.5 754.5H1176.5L1182.5 748.5L1188.5 754.5H1241.5Q1243.5 754.5 1243.5 756.5V779Q1243.5 781 1241.5 781H1124.5Q1122.5 781 1122.5 779V756.5Q1122.5 754.5 1124.5 754.5Z" fill="none" stroke="#000" stroke-opacity="0.05" stroke-width="5" transform="translate(1,1)"/>
<path d="M1124.5 754.5H1176.5L1182.5 748.5L1188.5 754.5H1241.5Q1243.5 754.5 1243.5 756.5V779Q1243.5 781 1241.5 781H1124.5Q1122.5 781 1122.5 779V756.5Q1122.5 754.5 1124.5 754.5Z" fill="none" stroke="#000" stroke-opacity="0.1" stroke-width="3" transform="translate(1,1)"/>
<path d="M1124.5 754.5H1176.5L1182.5 748.5L1188.5 754.5H1241.5Q1243.5 754.5 1243.5 756.5V779Q1243.5 781 1241.5 781H1124.5Q1122.5 781 1122.5 779V756.5Q1122.5 754.5 1124.5 754.5Z" fill="none" stroke="#000" stroke-opacity="0.15" stroke-width="1" transform="translate(1,1)"/>
<path d="M1124.5 754.5H1176.5L1182.5 748.5L1188.5 754.5H1241.5Q1243.5 754.5 1243.5 756.5V779Q1243.5 781 1241.5 781H1124.5Q1122.5 781 1122.5 779V756.5Q1122.5 754.5 1124.5 754.5Z" fill="#f7f7f7" fill-opacity="0.85" stroke="#333" stroke-width="1"/>
<text x="1130.3" y="773.5" font-size="10px" fill="#333">Monday, May 27, 03:55</text>
<g shape-rendering="crispEdges">
<rect x="191" y="778" width="1" height="11" fill="#e6e6e6"/>
<rect x="369" y="778" width="1" height="11" fill="#e6e6e6"/>
<rect x="547" y="778" width="1" height="11" fill="#e6e6e6"/>
<rect x="726" y="778" width="1" height="11" fill="#e6e6e6"/>
<rect x="904" y="778" width="1" height="11" fill="#e6e6e6"/>
<rect x="1082" y="778" width="1" height="11" fill="#e6e6e6"/>
<rect x="1260" y="778" width="1" height="11" fill="#e6e6e6"/>
<rect x="427" y="778" width="422" height="11" fill="#6685c2" fill-opacity="0.3"/>
<rect x="13" y="777" width="1383" height="1" fill="#cccccc"/>
<rect x="13" y="777" width="1" height="12" fill="#cccccc"/>
<rect x="426" y="777" width="1" height="12" fill="#cccccc"/>
<rect x="849" y="777" width="1" height="12" fill="#cccccc"/>
</g>
<path d="M397 789.5Q412 782.5 425 780.7L431 780.5L437.5 789.5" fill="#7cb5ec" fill-opacity="0.05" stroke="#7cb5ec" stroke-width="1"/>
<text x="14" y="57" fill="#666">Zoom</text>
<rect x="50" y="42" width="32" height="22" rx="2" fill="#f7f7f7"/>
<text x="66" y="56" text-anchor="middle" fill="#333">1h</text>
<rect x="87" y="42" width="32" height="22" rx="2" fill="#f7f7f7"/>
<text x="103" y="56" text-anchor="middle" fill="#333">8h</text>
<rect x="124" y="42" width="32" height="22" rx="2" fill="#f7f7f7"/>
<text x="140" y="56" text-anchor="middle" fill="#333">4h</text>
<rect x="161" y="42" width="32" height="22" rx="2" fill="#f7f7f7"/>
<text x="177" y="56" text-anchor="middle" fill="#333">1d</text>
<rect x="198" y="42" width="32" height="22" rx="2" fill="#f7f7f7"/>
<text x="214" y="56" text-anchor="middle" fill="#ccc">1w</text>
<rect x="235" y="42" width="32" height="22" rx="2" fill="#f7f7f7"/>
<text x="251" y="56" text-anchor="middle" fill="#333">All</text>
<text x="1140" y="56" fill="#666">From</text>
<rect x="1175.5" y="42.5" width="94" height="21" fill="none" stroke="#cccccc"/>
<text x="1222.5" y="56" text-anchor="middle" fill="#333">May 26, 2019</text>
<text x="1281.5" y="56" fill="#666">To</text>
<rect x="1302.5" y="42.5" width="94" height="21" fill="none" stroke="#cccccc"/>
<text x="1349.5" y="56" text-anchor="middle" fill="#333">May 27, 2019</text>
</svg>
<div id="topline"></div>
<div id="ctl"><button id="btn" type="button">get chart</button><input type="checkbox" class="cb" id="c0" name="zl" value="zl" style="left:80px"><label class="lb" for="c0" style="left:96px">zl</label><input type="checkbox" class="cb" id="c1" name="s" value="s" style="left:111px"><label class="lb" for="c1" style="left:127px">s</label><input type="checkbox" class="cb" id="c2" name="uv" value="uv" style="left:138px" checked><svg class="ck" style="left:138px" width="12" height="12" viewBox="0 0 12 12"><path d="M2.2 6.1L4.9 8.9L9.7 2.7" fill="none" stroke="#3a3a3a" stroke-width="2.5"/></svg><label class="lb" for="c2" style="left:154px">uv</label><input type="checkbox" class="cb" id="c3" name="zk" value="zk" style="left:174px"><label class="lb" for="c3" style="left:190px">zk</label><input type="checkbox" class="cb" id="c4" name="uz" value="uz" style="left:209px"><label class="lb" for="c4" style="left:225px">uz</label><input type="checkbox" class="cb" id="c5" name="sv" value="sv" style="left:244px"><label class="lb" for="c5" style="left:260px">sv</label><input type="checkbox" class="cb" id="c6" name="sz" value="sz" style="left:278px"><label class="lb" for="c6" style="left:294px">sz</label><input type="checkbox" class="cb" id="c7" name="ch" value="ch" style="left:311px"><label class="lb" for="c7" style="left:327px">ch</label><input type="checkbox" class="cb" id="c8" name="u" value="u" style="left:346px" checked><svg class="ck" style="left:346px" width="12" height="12" viewBox="0 0 12 12"><path d="M2.2 6.1L4.9 8.9L9.7 2.7" fill="none" stroke="#3a3a3a" stroke-width="2.5"/></svg><label class="lb" for="c8" style="left:362px">u</label><input type="checkbox" class="cb" id="c9" name="volume" value="volume" style="left:374px"><label class="lb" for="c9" style="left:390px">volume</label><input type="checkbox" class="cb" id="c10" name="angle" value="angle" style="left:442px"><label class="lb" for="c10" style="left:458px">angle</label><input type="checkbox" class="cb" id="c11" name="co2" value="co2" style="left:497px" checked><svg class="ck" style="left:497px" width="12" height="12" viewBox="0 0 12 12"><path d="M2.2 6.1L4.9 8.9L9.7 2.7" fill="none" stroke="#3a3a3a" stroke-width="2.5"/></svg><label class="lb" for="c11" style="left:513px">co2</label><input type="checkbox" class="cb" id="c12" name="speed" value="speed" style="left:540px"><label class="lb" for="c12" style="left:556px">speed</label></div>
</body></html>
